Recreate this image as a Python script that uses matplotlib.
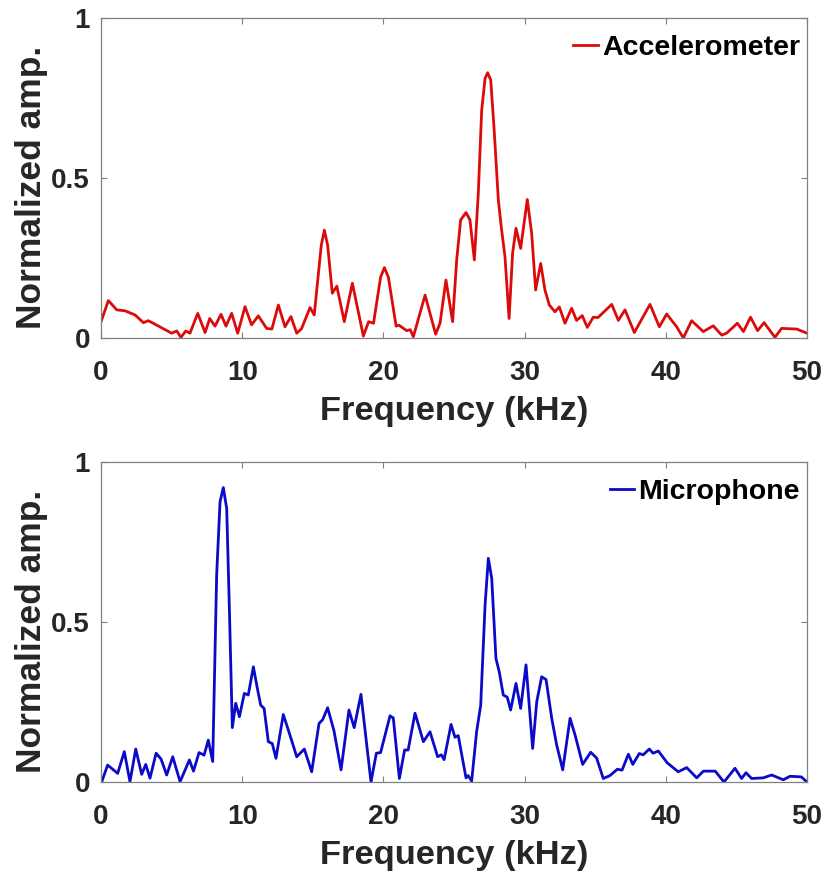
import matplotlib
matplotlib.use("Agg")
import matplotlib.pyplot as plt

# Espectros (frequência em kHz, amplitude normalizada)
freq_acel = [0, 0.52, 1.11, 1.7, 2.41, 3.0, 3.35, 3.7, 5.0, 5.36, 5.66, 6.0, 6.3, 6.85, 7.37,
             7.7, 8.07, 8.5, 8.85, 9.25, 9.68, 10.2, 10.66, 11.14, 11.73, 12.1, 12.56, 13.03,
             13.45, 13.86, 14.2, 14.8, 15.1, 15.6, 15.82, 16.05, 16.38, 16.7, 17.23, 17.8, 18.58,
             18.95, 19.3, 19.8, 20.07, 20.35, 20.9, 21.1, 21.65, 21.9, 22.12, 22.95, 23.7, 24.01,
             24.43, 24.9, 25.19, 25.47, 25.85, 26.13, 26.44, 26.72, 26.96, 27.2, 27.38, 27.6,
             27.83, 28.14, 28.37, 28.61, 28.9, 29.15, 29.39, 29.72, 30.19, 30.5, 30.78, 31.14,
             31.44, 31.75, 32.15, 32.46, 32.86, 33.33, 33.68, 34.08, 34.44, 34.86, 35.2, 36.17,
             36.64, 37.11, 37.77, 38.88, 39.54, 40.06, 40.77, 41.24, 41.83, 42.65, 43.36, 43.96,
             44.3, 45.07, 45.5, 46.0, 46.5, 46.96, 47.73, 48.2, 49.27, 50]
amp_acel = [0.051, 0.117, 0.088, 0.085, 0.072, 0.048, 0.054, 0.046, 0.015, 0.022, 0.002, 0.022,
            0.015, 0.077, 0.017, 0.061, 0.037, 0.074, 0.037, 0.077, 0.015, 0.098, 0.041, 0.069,
            0.030, 0.028, 0.103, 0.035, 0.067, 0.015, 0.029, 0.095, 0.072, 0.29, 0.337, 0.29,
            0.14, 0.162, 0.051, 0.171, 0.006, 0.051, 0.046, 0.19, 0.22, 0.19, 0.037, 0.040,
            0.023, 0.026, 0.004, 0.134, 0.012, 0.046, 0.181, 0.051, 0.244, 0.369, 0.392, 0.369,
            0.244, 0.452, 0.712, 0.811, 0.829, 0.806, 0.66, 0.431, 0.338, 0.254, 0.061, 0.265,
            0.343, 0.28, 0.433, 0.327, 0.15, 0.233, 0.15, 0.103, 0.082, 0.097, 0.046, 0.093,
            0.055, 0.07, 0.033, 0.065, 0.064, 0.105, 0.055, 0.088, 0.017, 0.105, 0.035, 0.075,
            0.035, 0.0, 0.054, 0.02, 0.038, 0.009, 0.015, 0.046, 0.02, 0.065, 0.023, 0.048,
            0.002, 0.03, 0.028, 0.015]

freq_mic = [0.05, 0.47, 1.18, 1.65, 2.05, 2.46, 2.88, 3.17, 3.47, 3.9, 4.25, 4.65, 5.08, 5.6,
            6.26, 6.55, 6.94, 7.3, 7.6, 7.91, 8.19, 8.43, 8.66, 8.9, 9.09, 9.3, 9.54, 9.8,
            10.15, 10.43, 10.79, 11.07, 11.31, 11.55, 11.85, 12.13, 12.39, 12.91, 13.5, 13.86,
            14.4, 14.92, 15.44, 15.7, 16.05, 16.5, 17.0, 17.56, 17.93, 18.41, 19.12, 19.5, 19.8,
            20.47, 20.7, 21.13, 21.5, 21.75, 22.24, 22.83, 23.3, 23.84, 24.1, 24.3, 24.79, 25.07,
            25.3, 25.85, 26.0, 26.25, 26.6, 26.89, 27.2, 27.43, 27.67, 27.97, 28.2, 28.49, 28.77,
            29.01, 29.39, 29.72, 30.1, 30.57, 30.86, 31.21, 31.52, 31.92, 32.27, 32.7, 33.22,
            33.58, 34.11, 34.68, 35.1, 35.57, 36.04, 36.57, 36.9, 37.35, 37.66, 38.12, 38.4,
            38.83, 39.1, 39.47, 40.1, 40.88, 41.48, 42.19, 42.66, 43.5, 44.12, 44.9, 45.37,
            45.68, 46.08, 46.9, 47.5, 48.32, 48.8, 49.6, 50]
amp_mic = [0.001, 0.053, 0.027, 0.095, 0.001, 0.103, 0.024, 0.055, 0.012, 0.09, 0.072, 0.022,
           0.079, 0.001, 0.069, 0.034, 0.092, 0.084, 0.131, 0.064, 0.647, 0.876, 0.92, 0.855,
           0.543, 0.17, 0.246, 0.204, 0.277, 0.272, 0.36, 0.293, 0.24, 0.23, 0.126, 0.12, 0.074,
           0.211, 0.13, 0.079, 0.103, 0.032, 0.183, 0.195, 0.232, 0.16, 0.038, 0.225, 0.17,
           0.274, 0.0, 0.09, 0.092, 0.207, 0.2, 0.011, 0.1, 0.1, 0.215, 0.126, 0.157, 0.079,
           0.085, 0.07, 0.18, 0.14, 0.145, 0.013, 0.02, 0.003, 0.157, 0.24, 0.553, 0.699, 0.637,
           0.386, 0.345, 0.272, 0.265, 0.225, 0.308, 0.23, 0.366, 0.105, 0.251, 0.329, 0.32,
           0.199, 0.116, 0.038, 0.199, 0.146, 0.055, 0.093, 0.075, 0.011, 0.02, 0.04, 0.037,
           0.087, 0.055, 0.089, 0.085, 0.103, 0.09, 0.097, 0.06, 0.032, 0.045, 0.013, 0.034,
           0.034, 0.0, 0.043, 0.011, 0.029, 0.011, 0.013, 0.022, 0.007, 0.018, 0.016, 0.0]

xticks = [0, 10, 20, 30, 40, 50]
yticks = [0, 0.5, 1]
ytick_labels = ["0", "0.5", "1"]

plt.rcParams['font.family'] = ['Liberation Sans', 'DejaVu Sans']
plt.rcParams['font.weight'] = 'bold'

fig = plt.figure(figsize=(8.26, 8.77), dpi=100)
ax1 = fig.add_axes([0.1223, 0.6146, 0.8547, 0.3649])
ax2 = fig.add_axes([0.1223, 0.1083, 0.8547, 0.3649])

series = [(ax1, freq_acel, amp_acel, '#dc0a0a', 'Accelerometer'),
          (ax2, freq_mic, amp_mic, '#0a0ac8', 'Microphone')]

for ax, f, a, cor, nome in series:
    ax.plot(f, a, color=cor, lw=2.0, label=nome, solid_joinstyle='round')
    ax.set_xlim(0, 50)
    ax.set_ylim(0, 1)
    ax.set_xticks(xticks)
    ax.set_yticks(yticks)
    ax.set_yticklabels(ytick_labels)
    ax.tick_params(direction='in', top=True, right=True, length=4.5, width=0.8,
                   color='#808080', labelsize=20, labelcolor='#262626')
    ax.tick_params(axis='x', pad=16)
    ax.tick_params(axis='y', pad=8)
    for s in ax.spines.values():
        s.set_color('#808080')
        s.set_linewidth(0.9)
    ax.set_xlabel("Frequency (kHz)", fontsize=24.8, fontweight='bold', color='#262626', labelpad=7)
    ax.set_ylabel("Normalized amp.", fontsize=25.5, fontweight='bold', color='#262626')
    ax.yaxis.set_label_coords(-0.075, 0.469)
    leg = ax.legend(loc='upper right', bbox_to_anchor=(1.0, 0.969), frameon=False,
                    fontsize=20.5, handlelength=0.85, handletextpad=0.15, borderpad=0.1,
                    borderaxespad=0.15)
    for t in leg.get_texts():
        t.set_fontweight('bold')

fig.savefig("out.png", dpi=100)
